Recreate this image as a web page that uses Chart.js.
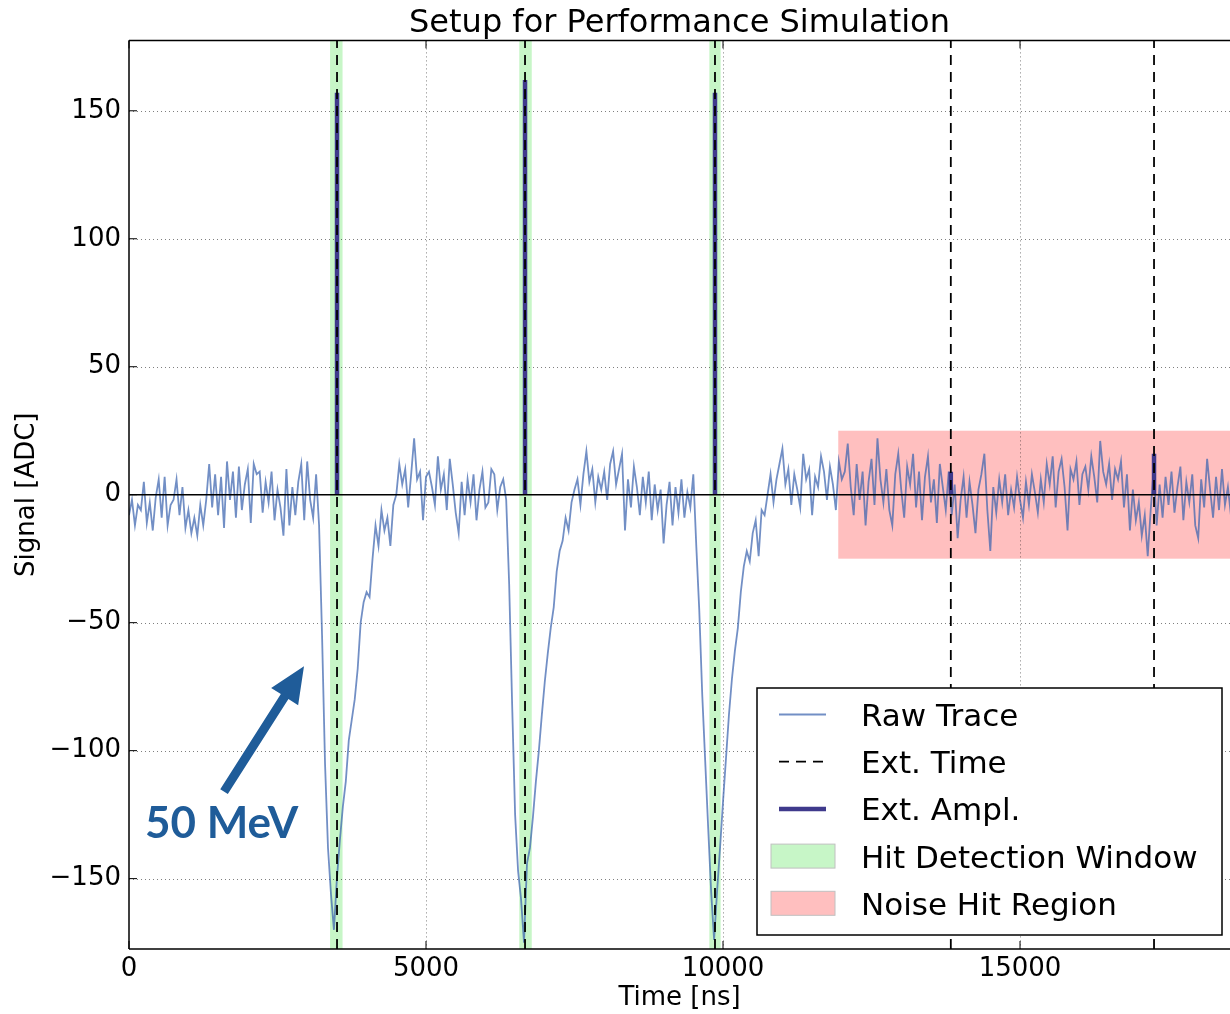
<!DOCTYPE html>
<html>
<head>
<meta charset="utf-8">
<title>Setup for Performance Simulation</title>
<script src="https://cdn.jsdelivr.net/npm/chart.js@4.4.1/dist/chart.umd.min.js"></script>
<style>
  html, body { margin: 0; padding: 0; background: #fff; }
  canvas { display: block; }
</style>
</head>
<body>
<canvas id="traceChart" width="1230" height="1014"></canvas>
<script>
// Raw trace, one sample every traceStep ns starting at 0
const traceStep = 50;
const traceValues = [
    // baseline 0 - 3150 ns
    -8, -2, -12, -4, -6, 5, -11, -3, -14, -1,
    6, -9, 7, -12, -4, -2, 6, -8, 3, -13,
    -6, -15, -9, -16, -4, -12, -2, 12, -5, 8,
    -8, 7, -13, 13, -2, 9, -9, 11, -6, 4,
    10, -11, 12, 8, 9, -7, 5, -3, 9, -10,
    2, -5, -16, 10, -12, 3, -8, 5, 12, -10,
    13, -2, -9, 8,
    // pulse 1
    -12, -55, -105, -138, -156, -170, -150, -135, -122, -112,
    -96, -88, -80, -68, -50, -42, -38, -40, -25, -12,
    -20, -6, -14, -9, -20, -4, 0,
    // 4550 - 6300 ns
    12, 4, 10, -5, 8, 22, 6, 9, -10, 7,
    9, 3, -4, 15, 2, 8, -6, 14, 4, -7,
    -15, 5, -8, 6, -3, 8, -10, 2, 9, -5,
    -3, 10, 8, -6, 3, 6,
    // pulse 2
    -2, -35, -82, -125, -147, -158, -175, -144, -138, -126,
    -112, -100, -86, -73, -62, -52, -44, -30, -22, -18,
    -9, -14, -3, 2,
    // 7550 - 9500 ns
    6, -4, 8, 17, 5, 10, -3, 7, 2, 9,
    -2, 12, 17, 4, 10, 16, -14, 6, -5, 11,
    3, -8, 7, -3, 9, -10, 4, -6, 2, -19,
    -4, 5, -12, 3, -7, 6, -9, 1, -5, 8,
    // pulse 3
    -20, -45, -78, -104, -130, -155, -174, -155, -138, -120,
    -103, -86, -72, -61, -52, -38, -28, -22, -26, -15,
    -10, -24, -6, -8, 0,
    // 10800 - 12050 ns
    8, -3, 6, 12, 18, 4, 10, -4, 8, 2,
    -5, 16, 6, 10, -8, 7, 3, 15, 9, -2,
    11, 4, -6, 13, 6, 9,
    // 12100 ns onwards (noise hit region)
    20, 3, -8, 12, -2, 9, -12, 5, 14, -4,
    22, 6, -3, 10, -6, -12, 8, 16, 2, -9,
    11, 4, 16, -5, 9, -10, 7, 15, -3, 6,
    -11, 12, 3, -6, 9, -8, 4, -17, -2, 7,
    -9, 5, -4, -15, 2, 8, 16, -6, -22, 3,
    -7, 6, -3, 8, -8, 2, -5, 7, -2, -9,
    5, -4, 8, 1, -7, 6, -3, 12, 4, 15,
    -5, 9, 14, 3, -14, 10, 6, 13, -4, 8,
    11, 2, 15, 7, -3, 21, 9, 4, 12, -2,
    10, 6, 13, -5, 8, -14, 2, -10, -3, -16,
    -8, -24, -6, 10, -12, 4, -9, 7, -4, 9,
    -7, 3, 11, -10, 5, -3, 8, -12, -17, 6,
    -5, 14, 2, -9, 7, -6, 10, -4, 3, -8
];

// extracted hits
const extTimes = [3502, 6667, 9865, 13835, 17256];
const extAmplitudes = [157, 162, 157, 9, 16];

// hit detection windows [start, end] in ns
const hitWindowStarts = [3385, 6570, 9770];
const hitWindowEnds = [3595, 6780, 9960];

// noise hit region
const noiseRegionStart = 11940;
const noiseRegionLow = -25;
const noiseRegionHigh = 25;

const xRange = [0, 18535];
const yRange = [-177.5, 177.5];
const xTickValues = [0, 5000, 10000, 15000];
const yTickValues = [-150, -100, -50, 0, 50, 100, 150];

// annotation (data coordinates)
const arrowTail = [1600, -116];
const arrowTip = [2946, -67];
const annotationText = '50 MeV';
const annotationPos = [269, -134];

const hitWindowLabel = 'Hit Detection Window';
const noiseRegionLabel = 'Noise Hit Region';

const traceColor = 'rgba(60, 100, 175, 0.72)';
const amplColor = '#3f3a8c';
const hitColor = 'rgba(144, 238, 144, 0.5)';
const noiseColor = 'rgba(255, 0, 0, 0.25)';
const annotationColor = '#1f5c99';
const FONT = '"DejaVu Sans", "Liberation Sans", sans-serif';

// build datasets
const rawPoints = traceValues.map((v, i) => ({ x: i * traceStep, y: v }));

const extTimePoints = [];
extTimes.forEach(t => {
    extTimePoints.push({ x: t, y: yRange[0] }, { x: t, y: yRange[1] }, { x: t, y: null });
});

const extAmplPoints = [];
extTimes.forEach((t, k) => {
    extAmplPoints.push({ x: t, y: 0 }, { x: t, y: extAmplitudes[k] }, { x: t, y: null });
});

function strokeLine(ctx, x0, y0, x1, y1) {
    ctx.beginPath();
    ctx.moveTo(x0, y0);
    ctx.lineTo(x1, y1);
    ctx.stroke();
}

// background spans, grid, frame, legend and annotation
const decorPlugin = {
    id: 'decor',
    beforeDatasetsDraw(chart) {
        const { ctx, chartArea: a, scales: { x, y } } = chart;
        ctx.save();
        ctx.beginPath();
        ctx.rect(a.left, a.top, a.right - a.left, a.bottom - a.top);
        ctx.clip();

        // hit detection windows
        ctx.fillStyle = hitColor;
        hitWindowStarts.forEach((s, k) => {
            const x0 = x.getPixelForValue(s);
            const x1 = x.getPixelForValue(hitWindowEnds[k]);
            ctx.fillRect(x0, a.top, x1 - x0, a.bottom - a.top);
        });

        // noise hit region
        ctx.fillStyle = noiseColor;
        const nx0 = x.getPixelForValue(noiseRegionStart);
        const ny0 = y.getPixelForValue(noiseRegionHigh);
        const ny1 = y.getPixelForValue(noiseRegionLow);
        ctx.fillRect(nx0, ny0, a.right - nx0, ny1 - ny0);

        // dotted grid
        ctx.strokeStyle = 'rgba(0, 0, 0, 0.5)';
        ctx.lineWidth = 1;
        ctx.setLineDash([1, 3]);
        x.ticks.forEach(t => {
            if (t.value === xRange[0]) return;
            const px = Math.round(x.getPixelForValue(t.value)) + 0.5;
            strokeLine(ctx, px, a.top, px, a.bottom);
        });
        y.ticks.forEach(t => {
            if (t.value === 0) return;
            const py = Math.round(y.getPixelForValue(t.value)) + 0.5;
            strokeLine(ctx, a.left, py, a.right, py);
        });
        ctx.restore();
    },
    afterDatasetsDraw(chart) {
        const { ctx, chartArea: a, scales: { x, y } } = chart;
        ctx.save();
        ctx.strokeStyle = '#000';
        ctx.lineWidth = 1.5;

        // zero line
        const y0 = y.getPixelForValue(0);
        strokeLine(ctx, a.left, y0, a.right, y0);

        // frame
        strokeLine(ctx, a.left, a.top, a.right, a.top);
        strokeLine(ctx, a.left, a.bottom, a.right, a.bottom);
        strokeLine(ctx, a.left, a.top, a.left, a.bottom);

        // inward tick marks
        ctx.lineWidth = 1;
        x.ticks.forEach(t => {
            const px = x.getPixelForValue(t.value);
            strokeLine(ctx, px, a.bottom, px, a.bottom - 8);
            strokeLine(ctx, px, a.top, px, a.top + 8);
        });
        y.ticks.forEach(t => {
            const py = y.getPixelForValue(t.value);
            strokeLine(ctx, a.left, py, a.left + 8, py);
        });
        ctx.restore();
    },
    afterDraw(chart) {
        const { ctx, chartArea: a, scales: { x, y } } = chart;
        ctx.save();

        // legend, lower right
        const lw = 465, lh = 247;
        const lx = a.right - 8 - lw, ly = a.bottom - 14 - lh;
        ctx.fillStyle = '#fff';
        ctx.fillRect(lx, ly, lw, lh);
        ctx.strokeStyle = '#000';
        ctx.lineWidth = 1.5;
        ctx.strokeRect(lx, ly, lw, lh);

        const rowY = k => ly + 26.5 + k * 47.2;
        const hx0 = lx + 22, hx1 = lx + 69;
        const ds = chart.data.datasets;

        // line handles
        ds.forEach((d, k) => {
            ctx.strokeStyle = d.borderColor;
            ctx.lineWidth = d.borderWidth;
            ctx.setLineDash(d.borderDash || []);
            strokeLine(ctx, hx0, rowY(k), hx1, rowY(k));
        });
        ctx.setLineDash([]);

        // patch handles
        [hitColor, noiseColor].forEach((c, j) => {
            const cy = rowY(ds.length + j);
            ctx.fillStyle = '#fff';
            ctx.fillRect(lx + 14, cy - 12, 64, 24);
            ctx.fillStyle = c;
            ctx.fillRect(lx + 14, cy - 12, 64, 24);
            ctx.strokeStyle = '#c0c0c0';
            ctx.lineWidth = 1;
            ctx.strokeRect(lx + 14, cy - 12, 64, 24);
        });

        const labels = ds.map(d => d.label).concat([hitWindowLabel, noiseRegionLabel]);
        ctx.fillStyle = '#000';
        ctx.font = '31px ' + FONT;
        ctx.textAlign = 'left';
        ctx.textBaseline = 'alphabetic';
        labels.forEach((t, k) => ctx.fillText(t, lx + 104, rowY(k) + 11.5));

        // annotation arrow
        const tail = { x: x.getPixelForValue(arrowTail[0]), y: y.getPixelForValue(arrowTail[1]) };
        const tip = { x: x.getPixelForValue(arrowTip[0]), y: y.getPixelForValue(arrowTip[1]) };
        const dx = tip.x - tail.x, dy = tip.y - tail.y;
        const len = Math.hypot(dx, dy);
        const ux = dx / len, uy = dy / len, nx = -uy, ny = ux;
        const headLen = 36, headHalf = 16, shaftHalf = 4.5;
        const bx = tip.x - ux * headLen, by = tip.y - uy * headLen;
        ctx.fillStyle = annotationColor;
        ctx.beginPath();
        ctx.moveTo(tail.x + nx * shaftHalf, tail.y + ny * shaftHalf);
        ctx.lineTo(bx + nx * shaftHalf, by + ny * shaftHalf);
        ctx.lineTo(bx + nx * headHalf, by + ny * headHalf);
        ctx.lineTo(tip.x, tip.y);
        ctx.lineTo(bx - nx * headHalf, by - ny * headHalf);
        ctx.lineTo(bx - nx * shaftHalf, by - ny * shaftHalf);
        ctx.lineTo(tail.x - nx * shaftHalf, tail.y - ny * shaftHalf);
        ctx.closePath();
        ctx.fill();

        ctx.font = 'bold 44px Lato, "Open Sans", sans-serif';
        ctx.fillText(annotationText, x.getPixelForValue(annotationPos[0]), y.getPixelForValue(annotationPos[1]));
        ctx.restore();
    }
};

const ctx = document.getElementById('traceChart').getContext('2d');

new Chart(ctx, {
    type: 'line',
    data: {
        datasets: [
            {
                label: 'Raw Trace',
                data: rawPoints,
                borderColor: traceColor,
                borderWidth: 1.8,
                pointRadius: 0,
                tension: 0,
                order: 3
            },
            {
                label: 'Ext. Time',
                data: extTimePoints,
                borderColor: '#000',
                borderWidth: 1.8,
                borderDash: [10, 7],
                pointRadius: 0,
                spanGaps: false,
                order: 1
            },
            {
                label: 'Ext. Ampl.',
                data: extAmplPoints,
                borderColor: amplColor,
                borderWidth: 4.5,
                borderCapStyle: 'butt',
                pointRadius: 0,
                spanGaps: false,
                order: 2
            }
        ]
    },
    options: {
        responsive: false,
        animation: false,
        events: [],
        layout: { padding: 0 },
        plugins: {
            legend: { display: false },
            tooltip: { enabled: false },
            title: {
                display: true,
                text: 'Setup for Performance Simulation',
                color: '#000',
                fullSize: false,
                font: { family: FONT, size: 32, weight: 'normal' },
                padding: { top: 4, bottom: -2 }
            }
        },
        scales: {
            x: {
                type: 'linear',
                min: xRange[0],
                max: xRange[1],
                grid: { display: false, drawTicks: false },
                border: { display: false },
                afterBuildTicks: scale => {
                    scale.ticks = xTickValues.map(v => ({ value: v }));
                },
                ticks: {
                    maxRotation: 0,
                    autoSkip: false,
                    color: '#000',
                    padding: 5,
                    font: { family: FONT, size: 26 },
                    callback: v => String(v)
                },
                title: {
                    display: true,
                    text: 'Time [ns]',
                    color: '#000',
                    font: { family: FONT, size: 26 },
                    padding: { top: 0, bottom: 0 }
                },
                afterFit: scale => { scale.height = 65; }
            },
            y: {
                type: 'linear',
                min: yRange[0],
                max: yRange[1],
                grid: { display: false, drawTicks: false },
                border: { display: false },
                afterBuildTicks: scale => {
                    scale.ticks = yTickValues.map(v => ({ value: v }));
                },
                ticks: {
                    autoSkip: false,
                    color: '#000',
                    padding: 8,
                    font: { family: FONT, size: 26 },
                    callback: v => (v < 0 ? '\u2212' + Math.abs(v) : String(v))
                },
                title: {
                    display: true,
                    text: 'Signal [ADC]',
                    color: '#000',
                    font: { family: FONT, size: 26 },
                    padding: { top: 12, bottom: 0 }
                },
                afterFit: scale => { scale.width = 129; }
            }
        }
    },
    plugins: [decorPlugin]
});
</script>
</body>
</html>
